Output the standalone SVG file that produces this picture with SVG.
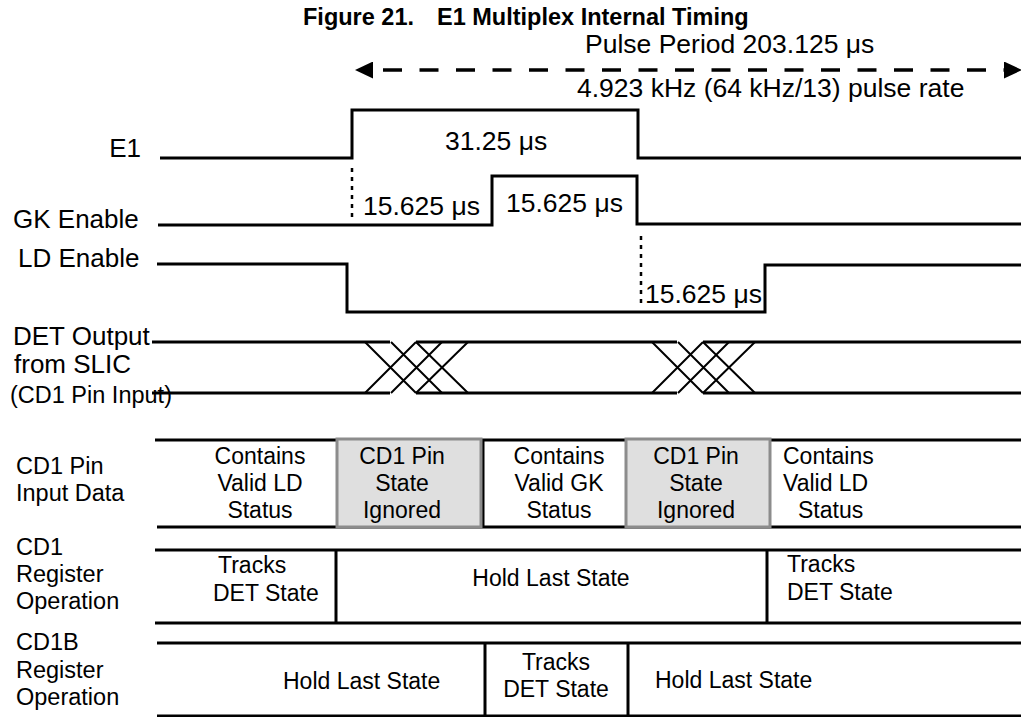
<svg xmlns="http://www.w3.org/2000/svg" width="1021" height="717" viewBox="0 0 1021 717">
<style>
text{font-family:"Liberation Sans",Arial,sans-serif;fill:#000}
.ttl{font-size:23.5px;font-weight:bold}
.up{font-size:26.5px}
.lb{font-size:26px}
.sm{font-size:23.5px}
.bx{font-size:23px}
.mid{text-anchor:middle}
.end{text-anchor:end}
.wave{fill:none;stroke:#000;stroke-width:3}
.xing{fill:none;stroke:#000;stroke-width:2}
.dot{fill:none;stroke:#000;stroke-width:2.5;stroke-dasharray:4 5}
.row{fill:none;stroke:#000;stroke-width:3}
.gray{fill:#dfdfdf;stroke:#8c8c8c;stroke-width:3}
.dash{fill:none;stroke:#000;stroke-width:3.5;stroke-dasharray:19 17.5;stroke-dashoffset:26.5}
</style>
<defs>
<marker id="ah" markerUnits="userSpaceOnUse" markerWidth="18" markerHeight="17" refX="0" refY="8.5" orient="auto-start-reverse" viewBox="0 0 18 17">
<path d="M0,0 L18,8.5 L0,17 z" fill="#000"/>
</marker>
</defs>
<rect width="1021" height="717" fill="#fff"/>

<g id="title">
<text class="ttl" x="303" y="25">Figure 21.</text>
<text class="ttl" x="437" y="25">E1 Multiplex Internal Timing</text>
</g>

<g id="period">
<text class="up" x="585" y="53">Pulse Period 203.125 μs</text>
<text class="up" x="577" y="97">4.923 kHz (64 kHz/13) pulse rate</text>
</g>

<g id="sig-e1">
<text class="lb end" x="141" y="157">E1</text>
<path class="wave" d="M160,158 H352 V110 H638 V158 H1021"/>
<text class="up" x="445" y="150">31.25 μs</text>
</g>

<g id="sig-gk">
<text class="lb" x="13" y="228">GK Enable</text>
<path class="wave" d="M158,225 H492 V176 H637 V224 H1021"/>
<text class="up" x="363" y="215">15.625 μs</text>
<text class="up" x="506" y="212">15.625 μs</text>
</g>

<g id="sig-ld">
<text class="lb" x="18" y="267">LD Enable</text>
<path class="wave" d="M157,264 H347 V312 H765 V265 H1021"/>
<text class="up" x="645" y="303">15.625 μs</text>
</g>

<g id="sig-det">
<text class="lb" x="13" y="345">DET Output</text>
<text class="lb" x="14" y="373">from SLIC</text>
<text class="sm" x="10" y="403">(CD1 Pin Input)</text>
<path class="wave" d="M152,342 H390 M416,342 H677 M703,342 H1021 M152,393 H390 M416,393 H677 M703,393 H1021"/>
<path class="xing" d="M365,342 L416,393 M365,393 L416,342 M391,342 L442,393 M391,393 L442,342 M416,342 L468,393 M416,393 L468,342"/>
<path class="xing" d="M652,342 L703,393 M652,393 L703,342 M678,342 L729,393 M678,393 L729,342 M703,342 L755,393 M703,393 L755,342"/>
</g>

<g id="connectors">
<path class="dash" d="M373,70 H1004" marker-start="url(#ah)" marker-end="url(#ah)"/>
<path class="dot" d="M352,168 V218"/>
<path class="dot" d="M641,236 V308"/>
</g>

<g id="row-cd1pin">
<text class="sm" x="16" y="474">CD1 Pin</text>
<text class="sm" x="16" y="501">Input Data</text>
<path class="row" d="M155,440 H1021 M157,527 H1021 M483,440 V527"/>
<rect class="gray" x="337" y="439" width="144" height="88"/>
<rect class="gray" x="626" y="439" width="144" height="88"/>
<text class="bx mid" x="260" y="464">Contains</text>
<text class="bx mid" x="260" y="491">Valid LD</text>
<text class="bx mid" x="260" y="518">Status</text>
<text class="bx mid" x="402" y="464">CD1 Pin</text>
<text class="bx mid" x="402" y="491">State</text>
<text class="bx mid" x="402" y="518">Ignored</text>
<text class="bx mid" x="559" y="464">Contains</text>
<text class="bx mid" x="559" y="491">Valid GK</text>
<text class="bx mid" x="559" y="518">Status</text>
<text class="bx mid" x="696" y="464">CD1 Pin</text>
<text class="bx mid" x="696" y="491">State</text>
<text class="bx mid" x="696" y="518">Ignored</text>
<text class="bx" x="783" y="464">Contains</text>
<text class="bx" x="783" y="491">Valid LD</text>
<text class="bx" x="798" y="518">Status</text>
</g>

<g id="row-cd1reg">
<text class="sm" x="16" y="555">CD1</text>
<text class="sm" x="16" y="582">Register</text>
<text class="sm" x="16" y="609">Operation</text>
<path class="row" d="M155,550 H1021 M155,623 H1021 M336,550 V623 M767,550 V623"/>
<text class="bx" x="218" y="573">Tracks</text>
<text class="bx" x="213" y="601">DET State</text>
<text class="bx mid" x="551" y="586">Hold Last State</text>
<text class="bx" x="787" y="572">Tracks</text>
<text class="bx" x="787" y="600">DET State</text>
</g>

<g id="row-cd1breg">
<text class="sm" x="16" y="650">CD1B</text>
<text class="sm" x="16" y="678">Register</text>
<text class="sm" x="16" y="705">Operation</text>
<path class="row" d="M157,643 H1021 M157,716 H1021 M485,643 V716 M628,643 V716"/>
<text class="bx" x="283" y="689">Hold Last State</text>
<text class="bx mid" x="556" y="670">Tracks</text>
<text class="bx mid" x="556" y="697">DET State</text>
<text class="bx" x="655" y="688">Hold Last State</text>
</g>
</svg>
